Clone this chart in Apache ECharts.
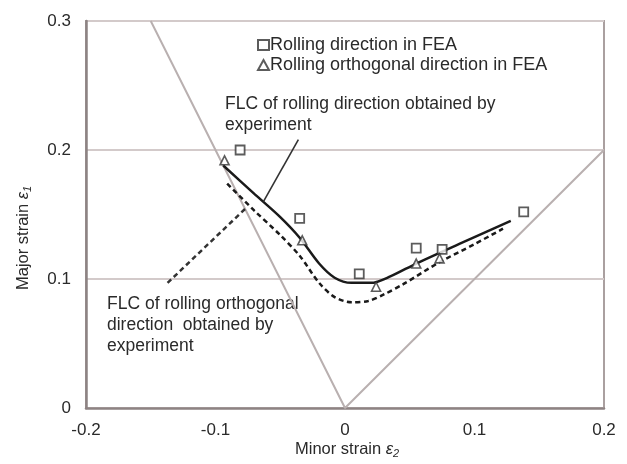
<!DOCTYPE html>
<html>
<head>
<meta charset="utf-8">
<script src="https://cdn.jsdelivr.net/npm/echarts@6/dist/echarts.min.js"></script>
<style>html,body{margin:0;padding:0;background:#fff}#c{width:627px;height:464px}</style>
</head>
<body>
<div id="c"></div>
<script>
// Data
var xTicks = [-0.2, -0.1, 0, 0.1, 0.2];
var yTicks = [0, 0.1, 0.2, 0.3];
var refLines = [[-0.15, 0.3], [0, 0], [0.2, 0.2]];
var rdFEA = [[-0.081, 0.200], [-0.035, 0.147], [0.011, 0.104], [0.055, 0.124], [0.075, 0.123], [0.138, 0.152]];
var roFEA = [[-0.093, 0.192], [-0.033, 0.130], [0.024, 0.094], [0.055, 0.112], [0.073, 0.116]];
var flcRD = [[-0.094, 0.188], [-0.07, 0.166], [-0.05, 0.148], [-0.035, 0.132], [-0.02, 0.112], [-0.008, 0.101], [0.005, 0.097], [0.02, 0.097], [0.035, 0.102], [0.055, 0.112], [0.09, 0.128], [0.128, 0.145]];
var flcRO = [[-0.091, 0.174], [-0.07, 0.153], [-0.05, 0.134], [-0.035, 0.118], [-0.02, 0.097], [-0.008, 0.086], [0.005, 0.082], [0.018, 0.083], [0.03, 0.088], [0.045, 0.096], [0.073, 0.113], [0.1, 0.127], [0.122, 0.139]];
var leaderRD = [[-0.036, 0.208], [-0.063, 0.160]];
var leaderRO = [[-0.137, 0.097], [-0.0754, 0.156]];
var legendNames = ['Rolling direction in FEA', 'Rolling orthogonal direction in FEA'];
var noteRD = 'FLC of rolling direction obtained by\nexperiment';
var noteRO = 'FLC of rolling orthogonal\ndirection  obtained by\nexperiment';

var FONT = '"Liberation Sans", Arial, sans-serif';
var TXT = '#2a2a2a';
var chart = echarts.init(document.getElementById('c'), null, {renderer: 'canvas'});
var titleRich = {
  a: {fontSize: 16.5, fontFamily: FONT, fill: TXT},
  e: {fontSize: 16.5, fontFamily: FONT, fontStyle: 'italic', fill: TXT},
  s: {fontSize: 11, fontFamily: FONT, fontStyle: 'italic', fill: TXT, padding: [8, 0, 0, 0]}
};
chart.setOption({
  animation: false,
  backgroundColor: '#fff',
  grid: {left: 86, right: 23, top: 21, bottom: 56, show: true, borderColor: '#aaa0a0', borderWidth: 2},
  xAxis: {
    type: 'value', min: xTicks[0], max: xTicks[xTicks.length - 1], interval: 0.1,
    axisLine: {show: true, onZero: false, lineStyle: {color: '#8d8383', width: 2.5}},
    axisTick: {show: false},
    splitLine: {show: false},
    axisLabel: {margin: 14, color: TXT, fontSize: 17, fontFamily: FONT}
  },
  yAxis: {
    type: 'value', min: yTicks[0], max: yTicks[yTicks.length - 1], interval: 0.1,
    axisLine: {show: true, onZero: false, lineStyle: {color: '#8d8383', width: 2.5}},
    axisTick: {show: false},
    splitLine: {show: true, lineStyle: {color: '#d3caca', width: 2}},
    axisLabel: {margin: 15, color: TXT, fontSize: 17, fontFamily: FONT}
  },
  legend: {
    show: true, orient: 'vertical', left: 252, top: 31, itemGap: 2, itemWidth: 11, itemHeight: 10,
    data: legendNames,
    textStyle: {color: TXT, fontSize: 18, fontFamily: FONT, padding: [0, 0, 0, -4]}
  },
  graphic: [
    {type: 'text', left: 225, top: 94, style: {text: noteRD, fill: TXT, font: '17.5px ' + FONT, lineHeight: 21}},
    {type: 'text', left: 107, top: 294, style: {text: noteRO, fill: TXT, font: '17.5px ' + FONT, lineHeight: 21}},
    {type: 'text', left: 295, top: 441, style: {rich: titleRich, text: '{a|Minor strain }{e|ε}{s|2}'}},
    {type: 'text', x: 14, y: 290, rotation: Math.PI / 2, style: {rich: titleRich, text: '{a|Major strain }{e|ε}{s|1}'}}
  ],
  series: [
    {type: 'line', name: 'ref', data: refLines, showSymbol: false, symbol: 'none', silent: true,
      lineStyle: {color: '#b9b0b0', width: 2}},
    {type: 'line', name: 'flcRD', data: flcRD, smooth: 0.3, symbol: 'none',
      lineStyle: {color: '#1a1a1a', width: 2.5}},
    {type: 'line', name: 'flcRO', data: flcRO, smooth: 0.3, symbol: 'none',
      lineStyle: {color: '#1a1a1a', width: 2.5, type: [5, 3.5]}},
    {type: 'line', name: 'leadRD', data: leaderRD, symbol: 'none',
      lineStyle: {color: '#333', width: 1.6}},
    {type: 'line', name: 'leadRO', data: leaderRO, symbol: 'none',
      lineStyle: {color: '#333', width: 2.5, type: [5, 3.5]}},
    {type: 'scatter', name: legendNames[0], data: rdFEA, symbol: 'rect', symbolSize: 9, z: 5,
      itemStyle: {color: '#fff', borderColor: '#333', borderWidth: 1.8}},
    {type: 'scatter', name: legendNames[1], data: roFEA, symbol: 'triangle', symbolSize: 9, z: 5,
      itemStyle: {color: '#fff', borderColor: '#333', borderWidth: 1.6}}
  ]
});
</script>
</body>
</html>
